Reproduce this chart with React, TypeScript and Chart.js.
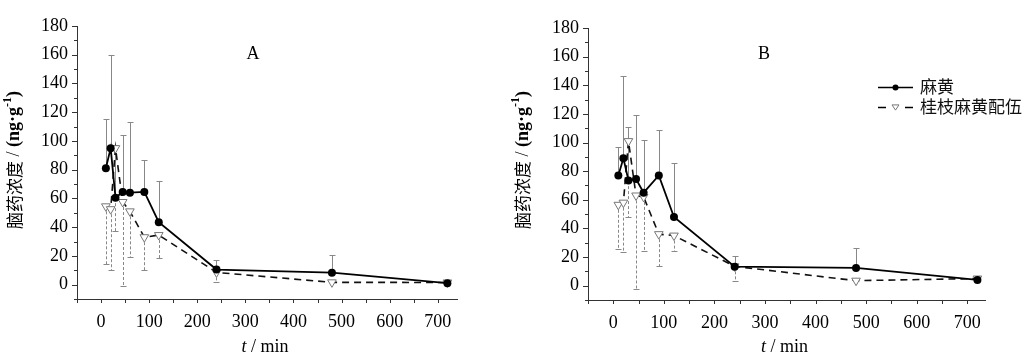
import React, { useEffect, useRef } from "react";
import { Chart, registerables } from "chart.js";

Chart.register(...registerables);

// ---- data ----
const times = [10, 20, 30, 45, 60, 90, 120, 240, 480, 720];

const mahuangA = [81, 95, 60.5, 64.5, 64, 64.5, 43.5, 10.5, 8.3, 1];
const mahuangAUpper = [115, 160, 97, 104, 113, 87, 72, 17, 20.5, null];
const guizhiA = [54.5, 52.5, 95, 57.5, 51, 33, 34.5, 8.5, 1.6, 1.5];
const guizhiALower = [14.5, 10.5, 37, -1, 19, 10.5, 18.5, 2, null, null];

const mahuangB = [77, 89, 73.5, 74.5, 65, 77, 48, 13.3, 12.4, 4];
const mahuangBUpper = [97, 146.5, 111, 119.5, 102, 109, 86, 21, 26, null];
const guizhiB = [56.5, 58, 101, 63, 62, 36, 35, 13.5, 3.5, 5];
const guizhiBLower = [25.5, 23.5, 48, -2, 24.5, 14, 24.5, 3, null, null];

const xTickLabels = [0, 100, 200, 300, 400, 500, 600, 700];
const yTickLabels = [0, 20, 40, 60, 80, 100, 120, 140, 160, 180];
const xMinorTicks = [-50, 0, 50, 100, 150, 200, 250, 300, 350, 400, 450, 500, 550, 600, 650, 700];
const yMinorTicks = [-10, 0, 10, 20, 30, 40, 50, 60, 70, 80, 90, 100, 110, 120, 130, 140, 150, 160, 170, 180];

const seriesNames = ["麻黄", "桂枝麻黄配伍"];
const yTitleCn = "脑药浓度";
const xTitleUnit = " / min";

const SERIF = '"Liberation Serif", "Times New Roman", serif';
const CJK = '"Noto Sans CJK SC", "Noto Sans", sans-serif';

type PanelCfg = {
  label: string;
  canvasLeft: number;
  canvasWidth: number;
  yWidth: number;
  padRight: number;
  padTop: number;
  xHeight: number;
  xMax: number;
  titleX: number;
  mahuang: number[];
  mahuangUpper: (number | null)[];
  guizhi: number[];
  guizhiLower: (number | null)[];
  legend: boolean;
};

const panels: PanelCfg[] = [
  {
    label: "A",
    canvasLeft: 0,
    canvasWidth: 510,
    yWidth: 77,
    padRight: 53,
    padTop: 26,
    xHeight: 59,
    xMax: 740,
    titleX: 14.5,
    mahuang: mahuangA,
    mahuangUpper: mahuangAUpper,
    guizhi: guizhiA,
    guizhiLower: guizhiALower,
    legend: false,
  },
  {
    label: "B",
    canvasLeft: 510,
    canvasWidth: 517,
    yWidth: 78,
    padRight: 42,
    padTop: 28,
    xHeight: 58,
    xMax: 735,
    titleX: 13,
    mahuang: mahuangB,
    mahuangUpper: mahuangBUpper,
    guizhi: guizhiB,
    guizhiLower: guizhiBLower,
    legend: true,
  },
];

function drawTriangleDown(ctx: CanvasRenderingContext2D, x: number, y: number, r: number) {
  ctx.beginPath();
  ctx.moveTo(x - r, y - r * 0.6);
  ctx.lineTo(x + r, y - r * 0.6);
  ctx.lineTo(x, y + r * 0.9);
  ctx.closePath();
  ctx.fillStyle = "#fff";
  ctx.fill();
  ctx.strokeStyle = "#777";
  ctx.lineWidth = 1;
  ctx.stroke();
}

function makeConfig(p: PanelCfg): any {
  const errPlugin = {
    id: "errBars",
    beforeDatasetsDraw(chart: any) {
      const { ctx } = chart;
      const xs = chart.scales.x;
      const ys = chart.scales.y;
      ctx.save();
      ctx.lineWidth = 1;
      ctx.strokeStyle = "#888";
      times.forEach((t, i) => {
        const up = p.mahuangUpper[i];
        if (up == null) return;
        const px = Math.round(xs.getPixelForValue(t)) + 0.5;
        const y0 = ys.getPixelForValue(p.mahuang[i]);
        const y1 = Math.round(ys.getPixelForValue(up)) + 0.5;
        ctx.setLineDash([]);
        ctx.beginPath();
        ctx.moveTo(px, y0);
        ctx.lineTo(px, y1);
        ctx.moveTo(px - 3, y1);
        ctx.lineTo(px + 3, y1);
        ctx.stroke();
      });
      times.forEach((t, i) => {
        const lo = p.guizhiLower[i];
        if (lo == null) return;
        const px = Math.round(xs.getPixelForValue(t)) + 0.5;
        const y0 = ys.getPixelForValue(p.guizhi[i]);
        const y1 = Math.round(ys.getPixelForValue(lo)) + 0.5;
        ctx.setLineDash([3, 2]);
        ctx.beginPath();
        ctx.moveTo(px, y0);
        ctx.lineTo(px, y1);
        ctx.stroke();
        ctx.setLineDash([]);
        ctx.beginPath();
        ctx.moveTo(px - 3, y1);
        ctx.lineTo(px + 3, y1);
        ctx.stroke();
      });
      ctx.restore();
    },
  };

  const decoPlugin = {
    id: "deco",
    afterDraw(chart: any) {
      const { ctx, chartArea } = chart;
      const xs = chart.scales.x;
      const ys = chart.scales.y;
      ctx.save();
      ctx.strokeStyle = "#333";
      ctx.lineWidth = 1;
      ctx.setLineDash([]);
      yMinorTicks.forEach((v) => {
        const py = Math.round(ys.getPixelForValue(v)) + 0.5;
        const len = v % 20 === 0 ? 5 : 3;
        ctx.beginPath();
        ctx.moveTo(chartArea.left - len, py);
        ctx.lineTo(chartArea.left, py);
        ctx.stroke();
      });
      xMinorTicks.forEach((v) => {
        const px = Math.round(xs.getPixelForValue(v)) + 0.5;
        ctx.beginPath();
        ctx.moveTo(px, chartArea.bottom);
        ctx.lineTo(px, chartArea.bottom + 4);
        ctx.stroke();
      });

      // panel label
      ctx.fillStyle = "#000";
      ctx.font = `18px ${SERIF}`;
      ctx.textAlign = "center";
      ctx.textBaseline = "middle";
      ctx.fillText(p.label, chartArea.left + 176, 54);

      // x title
      const cx = (chartArea.left + chartArea.right) / 2 - 2;
      const ty = 347;
      ctx.font = `italic 18px ${SERIF}`;
      const wT = ctx.measureText("t").width;
      ctx.font = `18px ${SERIF}`;
      const wU = ctx.measureText(xTitleUnit).width;
      const sx = cx - (wT + wU) / 2;
      ctx.textAlign = "left";
      ctx.font = `italic 18px ${SERIF}`;
      ctx.fillText("t", sx, ty);
      ctx.font = `18px ${SERIF}`;
      ctx.fillText(xTitleUnit, sx + wT, ty);

      // y title (rotated)
      const segs = [
        { t: yTitleCn, f: `17px ${CJK}`, dy: 0 },
        { t: " / ", f: `18px ${SERIF}`, dy: 0 },
        { t: "(ng·g", f: `bold 18px ${SERIF}`, dy: 0 },
        { t: "-1", f: `bold 12px ${SERIF}`, dy: -7 },
        { t: ")", f: `bold 18px ${SERIF}`, dy: 0 },
      ];
      let total = 0;
      const widths = segs.map((s) => {
        ctx.font = s.f;
        const w = ctx.measureText(s.t).width;
        total += w;
        return w;
      });
      ctx.translate(p.titleX, 160);
      ctx.rotate(-Math.PI / 2);
      let ox = -total / 2;
      segs.forEach((s, i) => {
        ctx.font = s.f;
        ctx.fillText(s.t, ox, s.dy);
        ox += widths[i];
      });
      ctx.restore();

      // legend
      if (p.legend) {
        ctx.save();
        const lx = 368;
        const lw = 35;
        ctx.strokeStyle = "#000";
        ctx.lineWidth = 1.6;
        ctx.beginPath();
        ctx.moveTo(lx, 87.5);
        ctx.lineTo(lx + lw, 87.5);
        ctx.stroke();
        ctx.fillStyle = "#000";
        ctx.beginPath();
        ctx.arc(lx + lw / 2, 87.5, 3, 0, Math.PI * 2);
        ctx.fill();
        ctx.beginPath();
        ctx.moveTo(lx, 107.5);
        ctx.lineTo(lx + 8, 107.5);
        ctx.moveTo(lx + lw - 8, 107.5);
        ctx.lineTo(lx + lw, 107.5);
        ctx.stroke();
        drawTriangleDown(ctx, lx + lw / 2, 107, 3.5);
        ctx.fillStyle = "#111";
        ctx.font = `17px ${CJK}`;
        ctx.textAlign = "left";
        ctx.textBaseline = "middle";
        ctx.fillText(seriesNames[0], 410, 87);
        ctx.fillText(seriesNames[1], 410, 107);
        ctx.restore();
      }
    },
  };

  return {
    type: "line",
    data: {
      datasets: [
        {
          label: seriesNames[0],
          data: times.map((t, i) => ({ x: t, y: p.mahuang[i] })),
          borderColor: "#000",
          borderWidth: 1.8,
          pointStyle: "circle",
          pointRadius: 4,
          pointBackgroundColor: "#000",
          pointBorderColor: "#000",
          pointBorderWidth: 0,
          tension: 0,
          order: 1,
        },
        {
          label: seriesNames[1],
          data: times.map((t, i) => ({ x: t, y: p.guizhi[i] })),
          borderColor: "#111",
          borderWidth: 1.6,
          borderDash: [7, 5],
          pointStyle: "triangle",
          rotation: 180,
          pointRadius: 5,
          pointBackgroundColor: "#fff",
          pointBorderColor: "#777",
          pointBorderWidth: 1,
          tension: 0,
          order: 2,
        },
      ],
    },
    options: {
      animation: false,
      responsive: false,
      maintainAspectRatio: false,
      layout: { padding: { left: 0, right: p.padRight, top: p.padTop, bottom: 0 } },
      plugins: { legend: { display: false }, tooltip: { enabled: false } },
      scales: {
        x: {
          type: "linear",
          min: -50,
          max: p.xMax,
          grid: { display: false, drawTicks: false },
          border: { display: true, color: "#333", width: 1 },
          afterBuildTicks: (s: any) => {
            s.ticks = xTickLabels.map((v) => ({ value: v }));
          },
          afterFit: (s: any) => {
            s.height = p.xHeight;
          },
          ticks: {
            autoSkip: false,
            maxRotation: 0,
            padding: 12,
            color: "#000",
            font: { family: SERIF, size: 18 },
            callback: (v: any) => String(v),
          },
        },
        y: {
          type: "linear",
          min: -10,
          max: 180,
          grid: { display: false, drawTicks: false },
          border: { display: true, color: "#333", width: 1 },
          afterBuildTicks: (s: any) => {
            s.ticks = yTickLabels.map((v) => ({ value: v }));
          },
          afterFit: (s: any) => {
            s.width = p.yWidth;
          },
          ticks: {
            autoSkip: false,
            padding: 9,
            color: "#000",
            font: { family: SERIF, size: 18 },
            callback: (v: any) => String(v),
          },
        },
      },
    },
    plugins: [errPlugin, decoPlugin],
  };
}

function Panel({ p }: { p: PanelCfg }) {
  const ref = useRef<HTMLCanvasElement | null>(null);
  useEffect(() => {
    if (!ref.current) return;
    const chart = new Chart(ref.current, makeConfig(p));
    return () => chart.destroy();
  }, [p]);
  return (
    <canvas
      ref={ref}
      width={p.canvasWidth}
      height={358}
      style={{
        position: "absolute",
        left: p.canvasLeft,
        top: 0,
        width: p.canvasWidth,
        height: 358,
      }}
    />
  );
}

export default function App() {
  return (
    <div
      style={{
        position: "absolute",
        left: 0,
        top: 0,
        width: 1027,
        height: 358,
        background: "#fff",
        overflow: "hidden",
      }}
    >
      {panels.map((p) => (
        <Panel key={p.label} p={p} />
      ))}
    </div>
  );
}
